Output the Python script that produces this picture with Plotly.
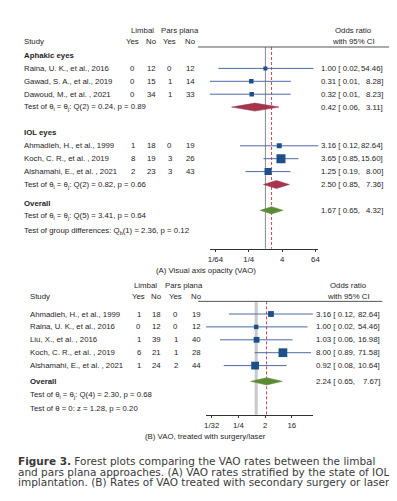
import math
import plotly.graph_objects as go

W, H = 397, 501
FONT = "Liberation Sans"

# ---------------- Panel A data ----------------
a_study = ["Raina, U. K., et al., 2016", "Gawad, S. A., et al., 2019", "Dawoud, M., et al. , 2021",
           "Ahmadieh, H., et al., 1999", "Koch, C. R., et al. , 2019", "Alshamahi, E., et al. , 2021"]
a_limbal_yes = [0, 0, 0, 1, 8, 2]
a_limbal_no = [12, 15, 34, 18, 19, 23]
a_pars_yes = [0, 1, 1, 0, 3, 3]
a_pars_no = [12, 14, 33, 19, 26, 43]
a_or = [1.00, 0.31, 0.32, 3.16, 3.65, 1.25]
a_lo = [0.02, 0.01, 0.01, 0.12, 0.85, 0.19]
a_hi = [54.46, 8.28, 8.23, 82.64, 15.60, 8.00]
a_weight = [7, 9, 9, 11, 36, 22]
a_sub_name = ["Aphakic eyes", "IOL eyes"]
a_sub_or = [0.42, 2.50]
a_sub_lo = [0.06, 0.85]
a_sub_hi = [3.11, 7.36]
a_sub_test = ["Q(2) = 0.24, p = 0.89", "Q(2) = 0.82, p = 0.66"]
a_all = [1.67, 0.65, 4.32]
a_all_test = "Q(5) = 3.41, p = 0.64"
a_diff_test = "Q<sub>b</sub>(1) = 2.36, p = 0.12"
a_ticks = [1/64, 1/4, 4, 64]
a_ticktext = ["1/64", "1/4", "4", "64"]
a_title = "(A) Visual axis opacity (VAO)"

# ---------------- Panel B data ----------------
b_study = ["Ahmadieh, H., et al., 1999", "Raina, U. K., et al., 2016", "Liu, X., et al. , 2016",
           "Koch, C. R., et al. , 2019", "Alshamahi, E., et al. , 2021"]
b_limbal_yes = [1, 0, 1, 6, 1]
b_limbal_no = [18, 12, 39, 21, 24]
b_pars_yes = [0, 0, 1, 1, 2]
b_pars_no = [19, 12, 40, 28, 44]
b_or = [3.16, 1.00, 1.03, 8.00, 0.92]
b_lo = [0.12, 0.02, 0.06, 0.89, 0.08]
b_hi = [82.64, 54.46, 16.98, 71.58, 10.64]
b_weight = [15, 9, 15, 34, 27]
b_all = [2.24, 0.65, 7.67]
b_het_test = "Q(4) = 2.30, p = 0.68"
b_z_test = "z = 1.28, p = 0.20"
b_ticks = [1/32, 1/4, 2, 16]
b_ticktext = ["1/32", "1/4", "2", "16"]
b_title = "(B) VAO, treated with surgery/laser"

caption = ["<b>Figure 3.</b> Forest plots comparing the VAO rates between the limbal",
           "and pars plana approaches. (A) VAO rates stratified by the state of IOL",
           "implantation. (B) Rates of VAO treated with secondary surgery or laser."]

# ---------------- styles ----------------
CI_COL = "#4a6aa6"
SQ_COL = "#1d4f8a"
RED_D = "#a5344f"
GREEN_D = "#5b8b34"
DASH_COL = "#d2414f"
TXT = "#1e1e1e"
SQ_K = 1.5
DH = 0.31

fig = go.Figure()
ann = []
shapes = []


def txt(xpx, yref, y, text, anchor="left", size=7.8, color=TXT, bold=False, family=FONT):
    if bold:
        text = "<b>" + text + "</b>"
    ann.append(dict(x=xpx / W, xref="paper", y=y, yref=yref, text=text, showarrow=False,
                    xanchor=anchor, yanchor="middle", borderpad=0, borderwidth=0,
                    font=dict(size=size, color=color, family=family)))


def or_text(xl, xr, yref, y, o, lo, hi):
    txt(xl, yref, y, f"{o:.2f} [ {lo:.2f},")
    txt(xr, yref, y, f"{hi:.2f}]", anchor="right")


def study_trace(xa, ya, y, o, lo, hi, w):
    fig.add_trace(go.Scatter(x=[lo, hi], y=[y, y], mode="lines", xaxis=xa, yaxis=ya,
                             line=dict(color=CI_COL, width=1), hoverinfo="skip", showlegend=False))
    fig.add_trace(go.Scatter(x=[o], y=[y], mode="markers", xaxis=xa, yaxis=ya,
                             marker=dict(symbol="square", size=SQ_K * math.sqrt(w), color=SQ_COL,
                                         line=dict(width=0)), showlegend=False))


def diamond(xa, ya, y, o, lo, hi, col, h=DH):
    fig.add_trace(go.Scatter(x=[lo, o, hi, o, lo], y=[y, y - h, y, y + h, y], mode="lines",
                             fill="toself", fillcolor=col, line=dict(color=col, width=0.5),
                             xaxis=xa, yaxis=ya, hoverinfo="skip", showlegend=False))


def vline(xa, ya, x, y0, y1, col, width, dash="solid"):
    fig.add_trace(go.Scatter(x=[x, x], y=[y0, y1], mode="lines", xaxis=xa, yaxis=ya,
                             line=dict(color=col, width=width, dash=dash), hoverinfo="skip",
                             showlegend=False))


# ---------------- Panel A layout ----------------
A_BASE, A_ROW = 47.5, 12.9
a_rows_hdr = [0, 5.95]
a_rows_study = [1, 2, 3, 7, 8, 9]
a_rows_test = [4, 10]
A_H1, A_H2, A_RULE, A_AXIS = -1.94, -1.1, -0.66, 14.98
A_OV_LBL, A_OV, A_OV_T, A_DIFF = 11.5, 12.0, 12.45, 13.6
a_cols = [124, 143, 161.5, 182]
a_lim_c, a_par_c, a_or_c = 133.5, 171.5, 347

vline("x", "y", 1, A_RULE, A_AXIS, "#8a8a8a", 1)
vline("x", "y", a_all[0], A_RULE, A_AXIS, DASH_COL, 1, "3px,2px")

txt(a_lim_c, "y", A_H1, "Limbal", "center")
txt(a_par_c, "y", A_H1, "Pars plana", "center")
txt(a_or_c, "y", A_H1, "Odds ratio", "center")
txt(14, "y", A_H2, "Study")
for c, t in zip(a_cols, ["Yes", "No", "Yes", "No"]):
    txt(c, "y", A_H2, t, "center")
txt(a_or_c, "y", A_H2, "with 95% CI", "center")
shapes.append(dict(type="line", xref="paper", yref="y", x0=190 / W, x1=383 / W, y0=A_RULE, y1=A_RULE,
                   line=dict(color="#555", width=1)))

for g in range(len(a_sub_name)):
    txt(14, "y", a_rows_hdr[g], a_sub_name[g], bold=True)
    txt(14, "y", a_rows_test[g], "Test of θ<sub>i</sub> = θ<sub>j</sub>: " + a_sub_test[g])
    diamond("x", "y", a_rows_test[g], a_sub_or[g], a_sub_lo[g], a_sub_hi[g], RED_D)
    or_text(314, 377, "y", a_rows_test[g], a_sub_or[g], a_sub_lo[g], a_sub_hi[g])

for i, s in enumerate(a_study):
    y = a_rows_study[i]
    txt(14, "y", y, s)
    for c, v in zip(a_cols, [a_limbal_yes[i], a_limbal_no[i], a_pars_yes[i], a_pars_no[i]]):
        txt(c, "y", y, str(v), "center")
    study_trace("x", "y", y, a_or[i], a_lo[i], a_hi[i], a_weight[i])
    or_text(314, 377, "y", y, a_or[i], a_lo[i], a_hi[i])

txt(14, "y", A_OV_LBL, "Overall", bold=True)
diamond("x", "y", A_OV, a_all[0], a_all[1], a_all[2], GREEN_D, 0.28)
or_text(314, 377, "y", A_OV, *a_all)
txt(14, "y", A_OV_T, "Test of θ<sub>i</sub> = θ<sub>j</sub>: " + a_all_test)
txt(14, "y", A_DIFF, "Test of group differences: " + a_diff_test)

# ---------------- Panel B layout ----------------
B_BASE, B_ROW = 306.0, 12.9
b_rows_study = [0, 1, 2, 3, 4]
B_H1, B_H2, B_RULE, B_AXIS = -2.19, -1.34, -0.98, 7.81
B_OV, B_T1, B_T2 = 5.22, 6.3, 7.29
b_cols = [130, 148, 167.5, 188]
b_lim_c, b_par_c, b_or_c = 136.5, 176, 341.5

vline("x2", "y2", 1, B_RULE, B_AXIS, "#c9c9c9", 3)
vline("x2", "y2", b_all[0], B_RULE, B_AXIS, DASH_COL, 1, "3px,2px")

txt(b_lim_c, "y2", B_H1, "Limbal", "center")
txt(b_par_c, "y2", B_H1, "Pars plana", "center")
txt(b_or_c, "y2", B_H1, "Odds ratio", "center")
txt(20, "y2", B_H2, "Study")
for c, t in zip(b_cols, ["Yes", "No", "Yes", "No"]):
    txt(c, "y2", B_H2, t, "center")
txt(b_or_c, "y2", B_H2, "with 95% CI", "center")
shapes.append(dict(type="line", xref="paper", yref="y2", x0=190 / W, x1=376 / W, y0=B_RULE, y1=B_RULE,
                   line=dict(color="#555", width=1)))

for i, s in enumerate(b_study):
    y = b_rows_study[i]
    txt(20, "y2", y, s)
    for c, v in zip(b_cols, [b_limbal_yes[i], b_limbal_no[i], b_pars_yes[i], b_pars_no[i]]):
        txt(c, "y2", y, str(v), "center")
    study_trace("x2", "y2", y, b_or[i], b_lo[i], b_hi[i], b_weight[i])
    or_text(309, 374, "y2", y, b_or[i], b_lo[i], b_hi[i])

txt(20, "y2", B_OV, "Overall", bold=True)
diamond("x2", "y2", B_OV, b_all[0], b_all[1], b_all[2], GREEN_D, 0.28)
or_text(309, 374, "y2", B_OV, *b_all)
txt(20, "y2", B_T1, "Test of θ<sub>i</sub> = θ<sub>j</sub>: " + b_het_test)
txt(20, "y2", B_T2, "Test of θ = 0: " + b_z_test)

# titles and caption
txt(197.5, "paper", 1 - 262 / H, a_title, "center")
txt(197, "paper", 1 - 428.5 / H, b_title, "center")
for k, line in enumerate(caption):
    txt(8, "paper", 1 - (453 + 10.7 * k) / H, line, "left", size=10.5, color="#3a3a3a",
        family="DejaVu Sans")

# axes
a_x0, a_x1 = 258.0 + math.log2(min(a_lo)) * 8.42, 258.0 + math.log2(max(a_hi)) * 8.42
b_x0, b_x1 = 248.7 + math.log2(min(b_lo)) * 9.0, 248.7 + math.log2(max(b_hi)) * 9.0
axis_common = dict(type="log", showline=True, linecolor="#333", linewidth=1, ticks="outside",
                   ticklen=2.5, tickcolor="#333", showgrid=False, zeroline=False,
                   tickfont=dict(size=7.8, color=TXT, family=FONT), anchor="free", fixedrange=True)

fig.update_layout(
    width=W, height=H, margin=dict(l=0, r=0, t=0, b=0),
    paper_bgcolor="white", plot_bgcolor="rgba(0,0,0,0)",
    font=dict(family=FONT, size=7.8, color=TXT),
    showlegend=False,
    xaxis=dict(domain=[a_x0 / W, a_x1 / W],
               range=[math.log10(min(a_lo)), math.log10(max(a_hi))],
               position=1 - 240.7 / H, tickvals=a_ticks, ticktext=a_ticktext, **axis_common),
    xaxis2=dict(domain=[b_x0 / W, b_x1 / W],
                range=[math.log10(min(b_lo)), math.log10(max(b_hi))],
                position=1 - 406.7 / H, tickvals=b_ticks, ticktext=b_ticktext, **axis_common),
    yaxis=dict(domain=[0, 1], range=[(H - A_BASE) / A_ROW, -A_BASE / A_ROW], visible=False,
               anchor="x", fixedrange=True),
    yaxis2=dict(domain=[0, 1], range=[(H - B_BASE) / B_ROW, -B_BASE / B_ROW], visible=False,
                anchor="x2", overlaying="y", fixedrange=True),
    annotations=ann, shapes=shapes,
)

fig.write_html("out.html", config={"displayModeBar": False})
